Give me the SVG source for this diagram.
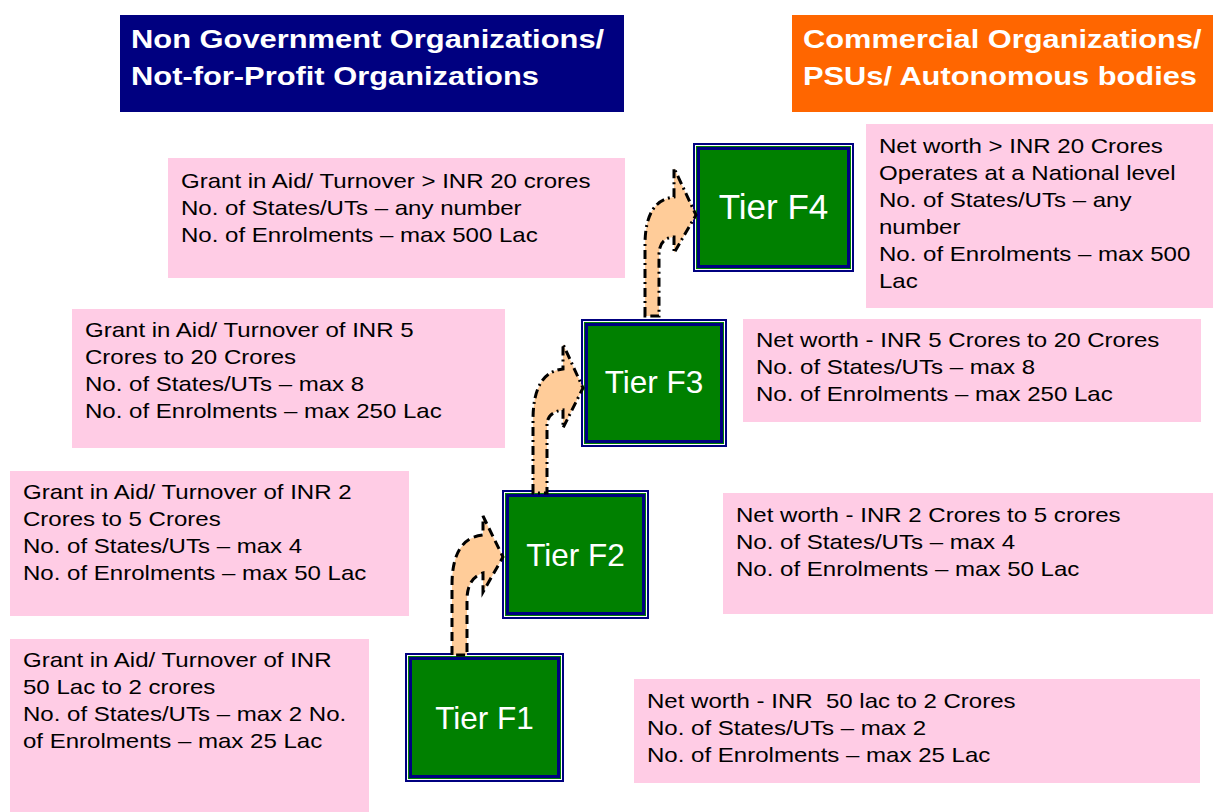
<svg xmlns="http://www.w3.org/2000/svg" width="1213" height="812" viewBox="0 0 1213 812">
<style>
.hdr{font-family:"Liberation Sans",Arial,sans-serif;font-weight:bold;font-size:26.5px;fill:#ffffff}
.body{font-family:"Liberation Sans",Arial,sans-serif;font-size:21px;fill:#000000}
.pink{fill:#FFCCE5}
.tier{font-family:"Liberation Sans",Arial,sans-serif;font-size:31.5px;fill:#ffffff;text-anchor:middle}
.b0{fill:#000080}
.b1{fill:#ffffff}
.b2{fill:#008000}
.b3{fill:#008000;stroke:#000080;stroke-width:3}
.arr{fill:#FFCC99;stroke:#000000;stroke-width:3;stroke-linejoin:miter}
.dash{stroke-dasharray:9 5}
.dashdot{stroke-dasharray:9 4 2 4}
</style>
<rect width="1213" height="812" fill="#ffffff"/>

<g id="header-ngo">
<rect x="120" y="15" width="504" height="97" fill="#000080"/>
<text class="hdr" transform="translate(131,48) scale(1.165,1)"><tspan x="0" y="0">Non Government Organizations/</tspan><tspan x="0" y="37">Not-for-Profit Organizations</tspan></text>
</g>
<g id="header-commercial">
<rect x="792" y="15" width="421" height="97" fill="#FF6600"/>
<text class="hdr" transform="translate(803,48) scale(1.162,1)"><tspan x="0" y="0">Commercial Organizations/</tspan><tspan x="0" y="37">PSUs/ Autonomous bodies</tspan></text>
</g>

<g id="ngo-f4">
<rect class="pink" x="168" y="158" width="457" height="120"/>
<text class="body" transform="translate(181,188) scale(1.145,1)"><tspan x="0" y="0">Grant in Aid/ Turnover &gt; INR 20 crores</tspan><tspan x="0" y="27">No. of States/UTs – any number</tspan><tspan x="0" y="54">No. of Enrolments – max 500 Lac</tspan></text>
</g>
<g id="ngo-f3">
<rect class="pink" x="72" y="309" width="433" height="139"/>
<text class="body" transform="translate(85,337) scale(1.145,1)"><tspan x="0" y="0">Grant in Aid/ Turnover of INR 5</tspan><tspan x="0" y="27">Crores to 20 Crores</tspan><tspan x="0" y="54">No. of States/UTs – max 8</tspan><tspan x="0" y="81">No. of Enrolments – max 250 Lac</tspan></text>
</g>
<g id="ngo-f2">
<rect class="pink" x="10" y="471" width="399" height="145"/>
<text class="body" transform="translate(23,499) scale(1.145,1)"><tspan x="0" y="0">Grant in Aid/ Turnover of INR 2</tspan><tspan x="0" y="27">Crores to 5 Crores</tspan><tspan x="0" y="54">No. of States/UTs – max 4</tspan><tspan x="0" y="81">No. of Enrolments – max 50 Lac</tspan></text>
</g>
<g id="ngo-f1">
<rect class="pink" x="10" y="639" width="359" height="173"/>
<text class="body" transform="translate(23,667) scale(1.145,1)"><tspan x="0" y="0">Grant in Aid/ Turnover of INR</tspan><tspan x="0" y="27">50 Lac to 2 crores</tspan><tspan x="0" y="54">No. of States/UTs – max 2 No.</tspan><tspan x="0" y="81">of Enrolments – max 25 Lac</tspan></text>
</g>

<g id="com-f4">
<rect class="pink" x="866" y="124" width="347" height="184"/>
<text class="body" transform="translate(879,153) scale(1.145,1)"><tspan x="0" y="0">Net worth &gt; INR 20 Crores</tspan><tspan x="0" y="27">Operates at a National level</tspan><tspan x="0" y="54">No. of States/UTs – any</tspan><tspan x="0" y="81">number</tspan><tspan x="0" y="108">No. of Enrolments – max 500</tspan><tspan x="0" y="135">Lac</tspan></text>
</g>
<g id="com-f3">
<rect class="pink" x="743" y="319" width="458" height="103"/>
<text class="body" transform="translate(756,347) scale(1.145,1)"><tspan x="0" y="0">Net worth - INR 5 Crores to 20 Crores</tspan><tspan x="0" y="27">No. of States/UTs – max 8</tspan><tspan x="0" y="54">No. of Enrolments – max 250 Lac</tspan></text>
</g>
<g id="com-f2">
<rect class="pink" x="723" y="493" width="490" height="121"/>
<text class="body" transform="translate(736,522) scale(1.145,1)"><tspan x="0" y="0">Net worth - INR 2 Crores to 5 crores</tspan><tspan x="0" y="27">No. of States/UTs – max 4</tspan><tspan x="0" y="54">No. of Enrolments – max 50 Lac</tspan></text>
</g>
<g id="com-f1">
<rect class="pink" x="634" y="679" width="566" height="104"/>
<text class="body" transform="translate(647,708) scale(1.145,1)" xml:space="preserve"><tspan x="0" y="0">Net worth - INR  50 lac to 2 Crores</tspan><tspan x="0" y="27">No. of States/UTs – max 2</tspan><tspan x="0" y="54">No. of Enrolments – max 25 Lac</tspan></text>
</g>

<g id="tier-f1">
<rect class="b0" x="405" y="653" width="159" height="129"/>
<rect class="b1" x="407" y="655" width="155" height="125"/>
<rect class="b2" x="408" y="656" width="153" height="123"/>
<rect class="b3" x="410.5" y="658.5" width="148" height="118"/>
<text class="tier" x="484.5" y="729">Tier F1</text>
</g>
<g id="tier-f2">
<rect class="b0" x="502" y="490" width="147" height="129"/>
<rect class="b1" x="504" y="492" width="143" height="125"/>
<rect class="b2" x="505" y="493" width="141" height="123"/>
<rect class="b3" x="507.5" y="495.5" width="136" height="118"/>
<text class="tier" x="575.5" y="566">Tier F2</text>
</g>
<g id="tier-f3">
<rect class="b0" x="581" y="319" width="146" height="128"/>
<rect class="b1" x="583" y="321" width="142" height="124"/>
<rect class="b2" x="584" y="322" width="140" height="122"/>
<rect class="b3" x="586.5" y="324.5" width="135" height="117"/>
<text class="tier" x="654" y="393">Tier F3</text>
</g>
<g id="tier-f4">
<rect class="b0" x="693" y="143" width="161" height="129"/>
<rect class="b1" x="695" y="145" width="157" height="125"/>
<rect class="b2" x="696" y="146" width="155" height="123"/>
<rect class="b3" x="698.5" y="148.5" width="150" height="118"/>
<text class="tier" x="773.5" y="219" style="font-size:35px">Tier F4</text>
</g>

<g id="connectors">
<path class="arr dash" d="M452,655 L452,585 Q452,538 483,535 L483,516 L503,557 L483,592 L483,573 Q467,578 467,600 L467,655 Z"/>
<path class="arr dashdot" d="M533,493 L533,420 Q533,372 563,369 L563,344 L583,388 L563,428 L563,410 Q547,412 547,425 L547,493 Z"/>
<path class="arr dashdot" d="M645,316 L645,245 Q645,200 674,197 L674,168 L696,215 L674,253 L674,237 Q659,238 659,255 L659,316 Z"/>
</g>
</svg>
